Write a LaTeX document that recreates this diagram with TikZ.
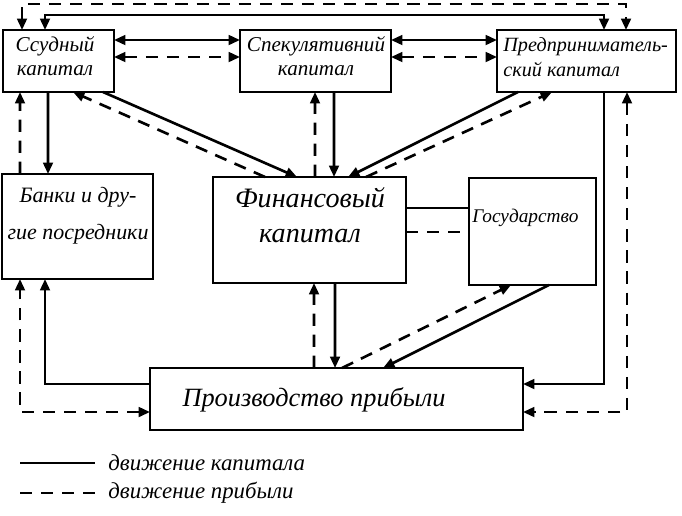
\documentclass[tikz,border=0pt]{standalone}
\usepackage{fontspec}
\setmainfont{Liberation Serif}
\usetikzlibrary{calc,arrows.meta}

\begin{document}
\begin{tikzpicture}[x=0.02cm,y=-0.02cm,
        >={Triangle[length=6.5pt,width=5.5pt]},
        box/.style={draw,line width=1.6pt,inner sep=0pt,outer sep=0pt},
        txt/.style={font=\itshape\fontsize{12}{14}\selectfont,align=center,inner sep=0pt},
        capline/.style={line width=1.5pt},
        profline/.style={line width=1.5pt,dash pattern=on 7pt off 5pt}]
        \useasboundingbox (0,0) rectangle (682,515);

        \node[box,minimum width=2.22cm,minimum height=1.24cm](ssud)at(58.5,61){};
        \node[box,minimum width=3.02cm,minimum height=1.24cm](spek)at(315.5,61){};
        \node[box,minimum width=3.58cm,minimum height=1.24cm](pred)at(586.5,61){};
        \node[box,minimum width=3.02cm,minimum height=2.10cm](bank)at(77.5,226.5){};
        \node[box,minimum width=3.86cm,minimum height=2.12cm](fin)at(309.5,230){};
        \node[box,minimum width=2.54cm,minimum height=2.14cm](gos)at(532.5,231.5){};
        \node[box,minimum width=7.46cm,minimum height=1.24cm](proiz)at(336.5,399){};

        \node[txt](ssudT)at(55,56){Ссудный\\капитал};
        \node[txt](spekT)at(316,56){Спекулятивний\\капитал};
        \node[txt,align=left,anchor=west,font=\itshape\fontsize{11.5}{14}\selectfont](predT)at(503,57){Предприниматель-\\ский капитал};
        \node[txt,font=\itshape\fontsize{12.5}{21}\selectfont](bankT)at(78,216){Банки и дру-\\гие посредники};
        \node[txt,font=\itshape\fontsize{16}{20}\selectfont](finT)at(310,215){Финансовый\\капитал};
        \node[txt,anchor=west,font=\itshape\fontsize{11}{14}\selectfont](gosT)at(472,218){Государство};
        \node[txt,font=\itshape\fontsize{15}{18}\selectfont](proizT)at(314,400){Производство прибыли};

        \draw[profline,<->]($(ssud.north west)+(19,0)$)--++(0,-26)-|($(pred.north west)+(129,0)$);
        \draw[capline,<->]($(ssud.north west)+(42,0)$)--++(0,-15)-|($(pred.north west)+(107,0)$);

        \draw[capline,<->]($(ssud.north east)+(0,10)$)--($(spek.north west)+(0,10)$);
        \draw[profline,<->]($(ssud.north east)+(0,27)$)--($(spek.north west)+(0,27)$);
        \draw[capline,<->]($(spek.north east)+(0,10)$)--($(pred.north west)+(0,10)$);
        \draw[profline,<->]($(spek.north east)+(0,27)$)--($(pred.north west)+(0,27)$);

        \draw[capline,->]($(ssud.south west)+(45,0)$)--($(bank.north west)+(46,0)$);
        \draw[profline,->]($(bank.north west)+(18,0)$)--($(ssud.south west)+(17,0)$);

        \draw[capline,->]($(ssud.south west)+(100,0)$)--($(fin.north west)+(84,0)$);
        \draw[profline,->]($(fin.north west)+(52,0)$)--($(ssud.south west)+(70,0)$);

        \draw[profline,->]($(fin.north west)+(102,0)$)--($(spek.south west)+(75,0)$);
        \draw[capline,->]($(spek.south west)+(94,0)$)--($(fin.north west)+(121,0)$);

        \draw[capline,->]($(pred.south west)+(21,0)$)--($(fin.north west)+(135,0)$);
        \draw[profline,->]($(fin.north west)+(153,0)$)--($(pred.south west)+(55,0)$);

        \draw[capline]($(fin.north east)+(0,31)$)--($(gos.north west)+(0,30)$);
        \draw[profline]($(fin.north east)+(0,55)$)--($(gos.north west)+(0,54)$);

        \draw[capline,->]($(fin.south west)+(122,0)$)--($(proiz.north west)+(185,0)$);
        \draw[profline,->]($(proiz.north west)+(164,0)$)--($(fin.south west)+(101,0)$);

        \draw[capline,->]($(gos.south west)+(80,0)$)--($(proiz.north west)+(233,0)$);
        \draw[profline,->]($(proiz.north west)+(192,0)$)--($(gos.south west)+(42,0)$);

        \draw[capline,->]($(pred.south west)+(107,0)$)|-($(proiz.north east)+(0,16)$);
        \draw[profline,<->]($(pred.south west)+(130,0)$)|-($(proiz.north east)+(0,44)$);

        \draw[capline,->]($(proiz.north west)+(0,16)$)-|($(bank.south west)+(43,0)$);
        \draw[profline,<->]($(proiz.north west)+(0,44)$)-|($(bank.south west)+(18,0)$);

        \node[txt,anchor=west,font=\itshape\fontsize{13}{15}\selectfont](legK)at(108,463){движение капитала};
        \node[txt,anchor=west,font=\itshape\fontsize{13}{15}\selectfont](legP)at(108,493){движение прибыли};
        \coordinate(legK0)at(20,463);
        \coordinate(legP0)at(20,493);
        \draw[capline](legK0)--($(legK.west)+(-13,0)$);
        \draw[profline](legP0)--($(legP.west)+(-13,0)$);
    \end{tikzpicture}
\end{document}
